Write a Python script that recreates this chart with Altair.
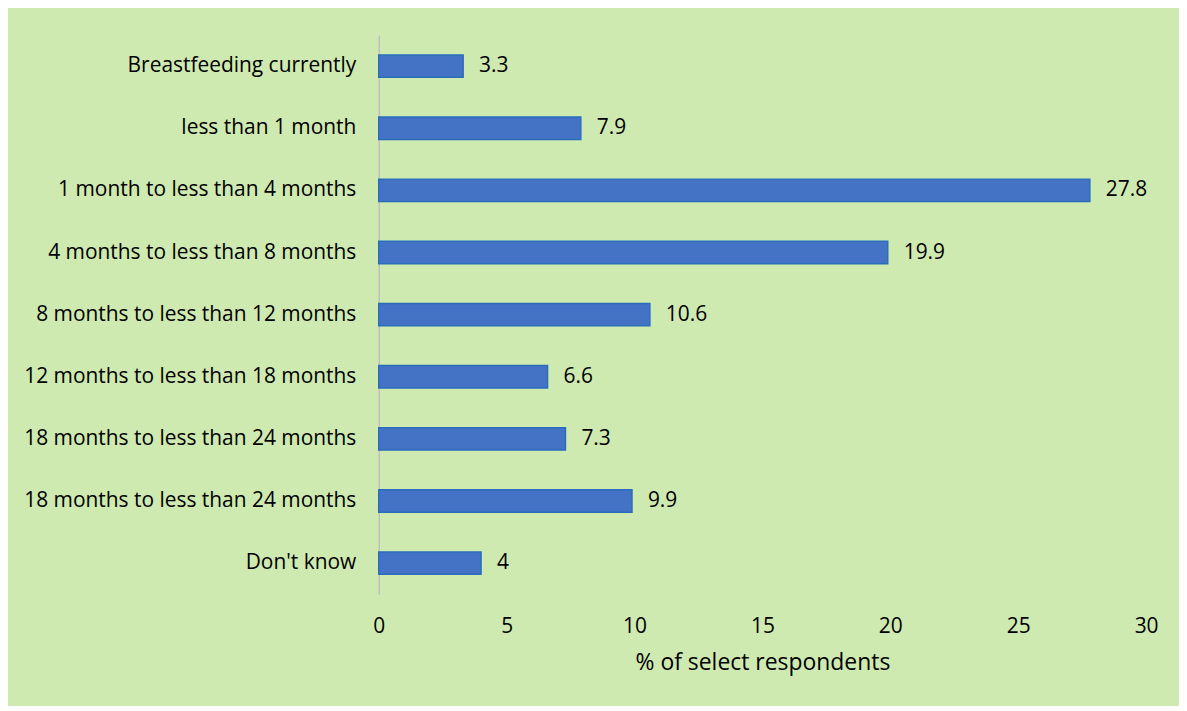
import json
import altair as alt
import pandas as pd

categories = [
    "Breastfeeding currently",
    "less than 1 month",
    "1 month to less than 4 months",
    "4 months to less than 8 months",
    "8 months to less than 12 months",
    "12 months to less than 18 months",
    "18 months to less than 24 months",
    "18 months to less than 24 months",
    "Don't know",
]
values = [3.3, 7.9, 27.8, 19.9, 10.6, 6.6, 7.3, 9.9, 4]
x_ticks = [0, 5, 10, 15, 20, 25, 30]

df = pd.DataFrame({"idx": list(range(len(categories))), "category": categories, "value": values})

label_expr = json.dumps(categories) + "[datum.value]"
FONT = "Open Sans"

y_enc = alt.Y(
    "idx:O",
    sort=list(range(len(categories))),
    scale=alt.Scale(paddingInner=0.64, paddingOuter=0.32),
    axis=alt.Axis(
        title=None,
        labelExpr=label_expr,
        ticks=False,
        domain=True,
        domainColor="#bfbfbf",
        domainWidth=1.5,
        labelPadding=23,
        labelFontSize=21,
        labelFont=FONT,
        labelColor="#000000",
        labelLimit=400,
    ),
)

x_enc = alt.X(
    "value:Q",
    scale=alt.Scale(domain=[0, 30], nice=False),
    axis=alt.Axis(
        values=x_ticks,
        title="% of select respondents",
        titleFontSize=23,
        titleFont=FONT,
        titleFontWeight="normal",
        titleColor="#000000",
        titlePadding=16,
        labelFontSize=21,
        labelFont=FONT,
        labelColor="#000000",
        labelPadding=21,
        labelFlush=False,
        ticks=False,
        domain=False,
        grid=False,
    ),
)

bars = alt.Chart(df).mark_bar(
    color="#4472c4", stroke="#2a6ebb", strokeWidth=1.5
).encode(x=x_enc, y=y_enc)

texts = alt.Chart(df).mark_text(
    align="left", baseline="middle", dx=16, fontSize=21, font=FONT, color="#000000"
).encode(x="value:Q", y=alt.Y("idx:O", sort=list(range(len(categories)))), text=alt.Text("value:Q"))

chart = (
    alt.layer(bars, texts)
    .properties(
        width=770,
        height=561,
        autosize=alt.AutoSizeParams(type="none"),
        padding={"left": 372, "top": 26, "right": 33, "bottom": 111},
        background="#cfeab1",
    )
    .configure_view(stroke=None)
)

chart.save("out.html", embed_options={"renderer": "svg", "actions": False})
